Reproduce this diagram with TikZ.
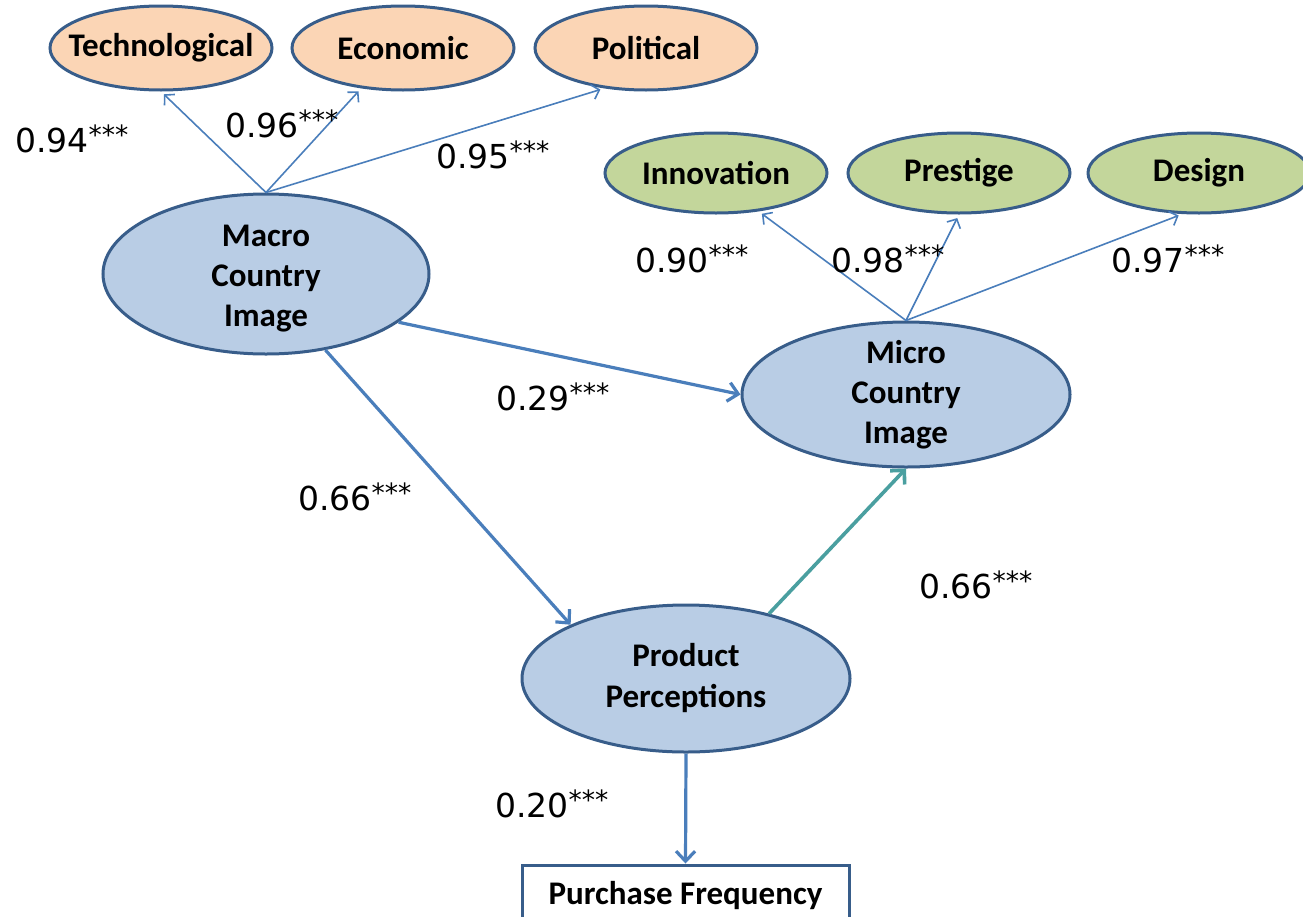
\documentclass[tikz,border=0pt]{standalone}
\usepackage{fontspec}
\setmainfont{Carlito}
\newfontfamily\numfont{DejaVu Sans}
\usetikzlibrary{shapes.geometric,arrows.meta}
\definecolor{ellfill}{HTML}{B9CDE5}
\definecolor{ellborder}{HTML}{385D8A}
\definecolor{peachfill}{HTML}{FBD5B5}
\definecolor{greenfill}{HTML}{C3D69B}
\definecolor{arrowc}{HTML}{4A7EBB}
\definecolor{tealc}{HTML}{4A9FA0}
\newcommand\pval[1]{{\numfont\fontsize{33}{33}\selectfont #1\raisebox{7.5pt}{\fontsize{26.5}{26.5}\selectfont ***}}}
\begin{document}
\begin{tikzpicture}[x=1pt,y=-1pt,
  ell/.style={ellipse, draw=ellborder, line width=3pt, inner sep=0pt},
  topell/.style={ell, fill=peachfill, minimum width=222pt, minimum height=84pt},
  micell/.style={ell, fill=greenfill, minimum width=222pt, minimum height=80pt},
  bigell/.style={ell, fill=ellfill},
  lbl/.style={font=\bfseries\fontsize{33}{40}\selectfont, align=center, inner sep=0pt},
  val/.style={anchor=base west, inner sep=0pt},
  loadar/.style={draw=arrowc, line width=1.6pt, -{Straight Barb[length=7pt,width=15pt]}, shorten >=4pt},
  pathar/.style={draw=arrowc, line width=3.2pt, -{Straight Barb[length=10pt,width=19pt]}},
  tealar/.style={draw=tealc, line width=3.6pt, -{Straight Barb[length=10pt,width=20pt]}}
]
\useasboundingbox (0,0) rectangle (1303,916);

% top row
\node[topell] (tech) at (161,48) {};
\node[topell] (econ) at (403,48) {};
\node[topell] (pol) at (646,48) {};
\node[lbl] (techt) at (tech) {Technological};
\node[lbl] (econt) at (econ) {Economic};
\node[lbl] (polt) at (pol) {Political};

% micro indicators
\node[micell] (inno) at (716,173) {};
\node[micell] (pres) at (959,173) {};
\node[micell] (desi) at (1199,173) {};
\node[lbl] (innot) at (inno) {Innovation};
\node[lbl] (prest) at (pres) {Prestige};
\node[lbl] (desit) at (desi) {Design};

% constructs
\node[bigell, minimum width=326pt, minimum height=160pt] (macro) at (266,274) {};
\node[lbl] (macrot) at ([yshift=-5pt]macro.center) {Macro\\Country\\Image};
\node[bigell, minimum width=328pt, minimum height=145pt] (micro) at (906,394.5) {};
\node[lbl] (microt) at (micro) {Micro\\Country\\Image};
\node[bigell, minimum width=328pt, minimum height=147pt] (prod) at (686,678.5) {};
\node[lbl, font=\bfseries\fontsize{33}{41}\selectfont] (prodt) at (prod) {Product\\Perceptions};

\node[draw=ellborder, line width=3pt, fill=white, minimum width=327pt, minimum height=62pt, inner sep=0pt,
      font=\bfseries\fontsize{33}{34}\selectfont] (purch) at (685.5,896) {Purchase Frequency};

% loading arrows
\draw[loadar] (macro.north) -- (tech.south);
\draw[loadar] (macro.north) -- (econ.-136);
\draw[loadar] (macro.north) -- (pol.-136);
\draw[loadar] (micro.north) -- (inno.-42);
\draw[loadar] (micro.north) -- (pres.south);
\draw[loadar] (micro.north) -- (desi.-112);

% structural paths
\draw[pathar] (macro.-20) -- (micro.west);
\draw[pathar] (macro.-52) -- (prod.155);
\draw[tealar] (prod.38) -- (micro.south);
\draw[pathar] (prod.south) -- (purch.north);

% values
\node[val] (v1) at (15,152) {\pval{0.94}};
\node[val] (v2) at (225,137) {\pval{0.96}};
\node[val] (v3) at (436,168) {\pval{0.95}};
\node[val] (v4) at (635,272) {\pval{0.90}};
\node[val] (v5) at (831,272) {\pval{0.98}};
\node[val] (v6) at (1111,272) {\pval{0.97}};
\node[val] (v7) at (496,410) {\pval{0.29}};
\node[val] (v8) at (298,510) {\pval{0.66}};
\node[val] (v9) at (919,598) {\pval{0.66}};
\node[val] (v10) at (495,817) {\pval{0.20}};
\end{tikzpicture}
\end{document}
